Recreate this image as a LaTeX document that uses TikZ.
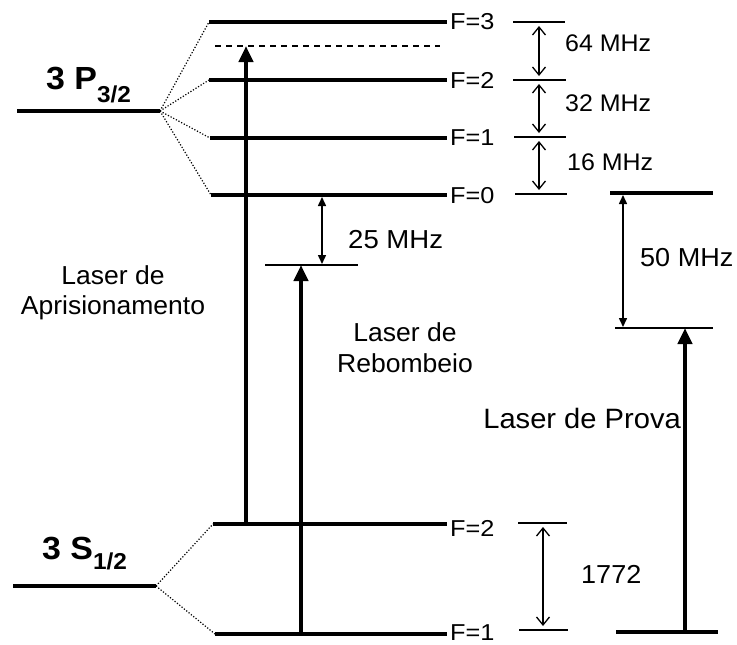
\documentclass[tikz,border=0pt]{standalone}
\usepackage{fontspec}
\setmainfont{Liberation Sans}
\usetikzlibrary{arrows.meta}
\newcommand{\hs}[2][1.1]{\scalebox{#1}[1]{#2}}
\begin{document}
\begin{tikzpicture}[x=1pt,y=-1pt,
  level/.style={line width=4pt},
  thinlevel/.style={line width=2pt},
  marker/.style={line width=1.5pt},
  dotline/.style={line width=1.2pt,dash pattern=on 1.2pt off 1.8pt},
  virt/.style={line width=1.8pt,dash pattern=on 6pt off 5pt},
  laser/.style={line width=4pt,-{Triangle[length=16pt,width=14pt]}},
  gap/.style={line width=1.3pt,{Straight Barb[length=8pt,width=13pt]}-{Straight Barb[length=8pt,width=13pt]}},
  gapf/.style={line width=1.5pt,{Triangle[length=9pt,width=8pt]}-{Triangle[length=9pt,width=8pt]}},
  flabel/.style={anchor=west,inner sep=0pt,font=\fontsize{23}{23}\selectfont},
  mlabel/.style={anchor=base west,inner sep=0pt,font=\fontsize{24}{24}\selectfont},
  blabel/.style={anchor=base west,inner sep=0pt,font=\fontsize{26}{26}\selectfont},
  llabel/.style={anchor=base,inner sep=0pt,font=\fontsize{26}{26}\selectfont},
  title/.style={anchor=base west,inner sep=0pt,font=\bfseries\fontsize{32}{32}\selectfont}
]
\useasboundingbox (0,0) rectangle (737,645);

% ---- 3P3/2 manifold
\coordinate (Pa) at (17,111); \coordinate (Pb) at (160,111);
\coordinate (P3a) at (209,22);  \coordinate (P3b) at (447,22);
\coordinate (P2a) at (209,80);  \coordinate (P2b) at (447,80);
\coordinate (P1a) at (210,138); \coordinate (P1b) at (447,138);
\coordinate (P0a) at (211,195); \coordinate (P0b) at (447,195);
\coordinate (Va) at (215,46);   \coordinate (Vb) at (440,46);
\draw[level] (Pa) -- (Pb);
\foreach \n in {P3,P2,P1,P0} \draw[level] (\n a) -- (\n b);
\foreach \n in {P3,P2,P1,P0} \draw[dotline] (Pb) -- (\n a);
\draw[virt] (Va) -- (Vb);
\node[title] (tP) at (46,89) {\hs[1.06]{3 P\raisebox{-13pt}{\fontsize{23}{23}\selectfont 3/2}}};

\node[flabel] (f3) at (450,22) {\hs{F=3}};
\node[flabel] (f2) at (450,80) {\hs{F=2}};
\node[flabel] (f1) at (450,138) {\hs{F=1}};
\node[flabel] (f0) at (450,196) {\hs{F=0}};

% markers and splittings
\coordinate (m3a) at (513,22);  \coordinate (m3b) at (565,22);
\coordinate (m2a) at (513,80);  \coordinate (m2b) at (566,80);
\coordinate (m1a) at (514,137); \coordinate (m1b) at (566,137);
\coordinate (m0a) at (515,194); \coordinate (m0b) at (567,194);
\foreach \n in {m3,m2,m1,m0} \draw[marker] (\n a) -- (\n b);
\coordinate (g3t) at (539,26);  \coordinate (g3b) at (539,76);
\coordinate (g2t) at (539,84);  \coordinate (g2b) at (539,133);
\coordinate (g1t) at (539,141); \coordinate (g1b) at (539,190);
\draw[gap] (g3t) -- (g3b);
\draw[gap] (g2t) -- (g2b);
\draw[gap] (g1t) -- (g1b);
\node[mlabel] (l64) at (565,51) {\hs[1.04]{64 MHz}};
\node[mlabel] (l32) at (565,111) {\hs[1.04]{32 MHz}};
\node[mlabel] (l16) at (567,170) {\hs[1.04]{16 MHz}};

% ---- 3S1/2 manifold
\coordinate (Sa) at (13,586); \coordinate (Sb) at (156,586);
\coordinate (S2a) at (213,524); \coordinate (S2b) at (447,524);
\coordinate (S1a) at (215,634); \coordinate (S1b) at (447,634);
\draw[level] (Sa) -- (Sb);
\draw[level] (S2a) -- (S2b);
\draw[level] (S1a) -- (S1b);
\draw[dotline] (Sb) -- (S2a);
\draw[dotline] (Sb) -- (S1a);
\node[title] (tS) at (42,559) {\hs[1.06]{3 S\raisebox{-10pt}{\fontsize{23}{23}\selectfont 1/2}}};
\node[flabel] (s2) at (450,528) {\hs{F=2}};
\node[flabel] (s1) at (450,633) {\hs{F=1}};
\coordinate (n2a) at (518,523); \coordinate (n2b) at (567,523);
\coordinate (n1a) at (519,630); \coordinate (n1b) at (568,630);
\draw[marker] (n2a) -- (n2b);
\draw[marker] (n1a) -- (n1b);
\coordinate (hft) at (543,527); \coordinate (hfb) at (543,626);
\draw[gap] (hft) -- (hfb);
\node[blabel] (l1772) at (581,583) {\hs[1.04]{1772}};

% ---- trapping laser
\coordinate (Tb) at (246,524); \coordinate (Tt) at (246,46);
\draw[laser] (Tb) -- (Tt);
\node[llabel] (la1) at (113,284) {\hs[1.02]{Laser de}};
\node[llabel] (la2) at (113,314) {\hs[1.02]{Aprisionamento}};

% ---- repumper
\coordinate (Rb) at (301,634); \coordinate (Rt) at (301,265);
\coordinate (Ra) at (265,265); \coordinate (Rc) at (358,265);
\draw[thinlevel] (Ra) -- (Rc);
\draw[laser] (Rb) -- (Rt);
\coordinate (d25t) at (322,197); \coordinate (d25b) at (322,264);
\draw[gapf] (d25t) -- (d25b);
\node[blabel] (l25) at (348,248) {\hs[1.06]{25 MHz}};
\node[llabel] (lr1) at (405,341) {\hs[1.02]{Laser de}};
\node[llabel] (lr2) at (405,372) {\hs[1.02]{Rebombeio}};

% ---- probe
\coordinate (Qa) at (610,193); \coordinate (Qb) at (713,193);
\coordinate (Qc) at (615,328); \coordinate (Qd) at (713,328);
\coordinate (Qe) at (616,632); \coordinate (Qf) at (718,632);
\draw[level] (Qa) -- (Qb);
\draw[thinlevel] (Qc) -- (Qd);
\draw[level] (Qe) -- (Qf);
\coordinate (d50t) at (623,195); \coordinate (d50b) at (623,327);
\draw[gapf] (d50t) -- (d50b);
\node[blabel] (l50) at (640,266) {\hs[1.04]{50 MHz}};
\coordinate (Xb) at (685,632); \coordinate (Xt) at (685,328);
\draw[laser] (Xb) -- (Xt);
\node[anchor=base east,inner sep=0pt,font=\fontsize{28}{28}\selectfont] (lp) at (681,428) {\hs[1.04]{Laser de Prova}};
\end{tikzpicture}
\end{document}
